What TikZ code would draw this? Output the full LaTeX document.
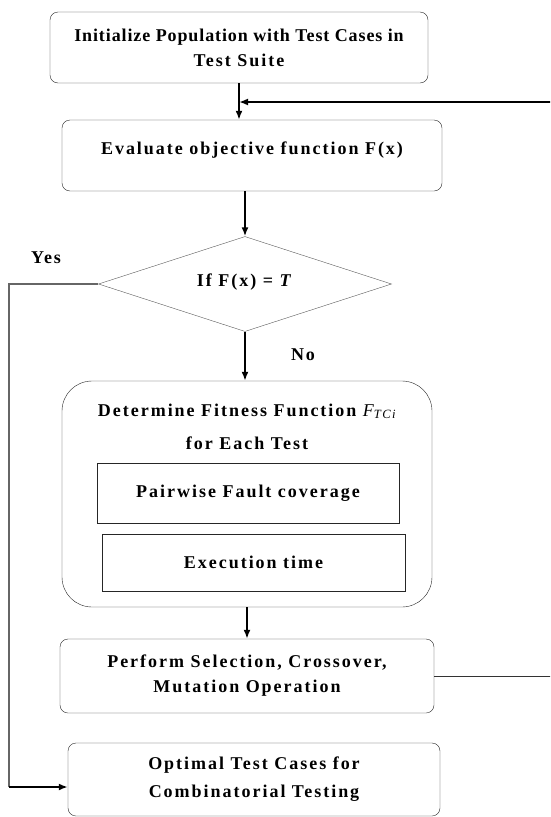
\documentclass[tikz,border=0pt]{standalone}
\usepackage{fontspec}
\setmainfont{Liberation Serif}
\newfontfamily\flowfont{Liberation Serif}[LetterSpace=11]
\usetikzlibrary{positioning, arrows.meta, shapes.geometric}
\tikzset{
	line width = 1.3pt,
	>={Latex[length=9pt,width=7pt]},
	font = \flowfont\bfseries\fontsize{18}{25}\selectfont,
	stepbox/.style={
		draw=black!85,
		rounded corners=8pt,
		align=center,
		inner sep=0pt
	},
	innerbox/.style={
		draw=black!85,
		inner sep=0pt
	},
	decision/.style={
		draw=black!65,
		diamond,
		aspect=3,
		inner sep=0pt
	},
	flow/.style={
		->,
		line width=1.8pt
	},
	branch/.style={
		draw=black!60,
		line width=1.3pt
	}
}

\begin{document}
\begin{tikzpicture}[x=1pt, y=1pt]
\useasboundingbox (0,0) rectangle (550,-817);
\clip (0,0) rectangle (550,-817);

\node[stepbox, minimum width=378pt, minimum height=71pt] (init) at (239,-47.5) {\addfontfeatures{LetterSpace=5}Initialize Population with Test Cases in\\Test Suite};
\node[stepbox, minimum width=380pt, minimum height=71pt] (eval) at (252,-155.5) {\raisebox{15pt}{Evaluate objective function F(x)}};
\node[decision, minimum width=293pt, minimum height=95pt] (cond) at (245,-284) {\raisebox{8pt}{If F(x) = \textit{T}}};
\node (yes) at (46,-258) {Yes};
\node (no) at (303,-355) {No};

% fitness block
\node[draw=black!85, rounded corners=30pt, minimum width=370pt, minimum height=226pt] (fit) at (247,-494) {};
\node[align=center] (fittitle) at (247,-426.5) {Determine Fitness Function {\mdseries\itshape F\textsubscript{TCi}}\\[8pt]for Each Test};
\node[innerbox, minimum width=302pt, minimum height=60pt] (pair) at (248,-493) {Pairwise Fault coverage};
\node[innerbox, minimum width=303pt, minimum height=57pt] (exec) at (253.5,-562.5) {Execution time};

\node[stepbox, minimum width=374pt, minimum height=74pt] (oper) at (247,-676) {Perform Selection, Crossover,\\Mutation Operation};
\node[stepbox, minimum width=372pt, minimum height=73pt] (optimal) at (254,-779.5) {Optimal Test Cases for\\[3pt]Combinatorial Testing};

\coordinate (joinrow) at (0,-102);
\coordinate (yesrow) at (9,-787);

\draw[flow] (init.south) -- (init.south |- eval.north);
\draw[flow] (cond.north |- eval.south) -- (cond.north);
\draw[flow] (cond.south) -- (cond.south |- fit.north);
\draw[flow] (fit.south) -- (fit.south |- oper.north);

% loop back
\draw[black!80] (oper.east) -- ++(130,0) coordinate (back);
\draw[flow] (back) |- (init.south |- joinrow);

% yes branch
\draw[branch] (cond.west) -| (yesrow);
\draw[flow, line width=2.6pt] (yesrow) -- (yesrow -| optimal.west);
\end{tikzpicture}
\end{document}
